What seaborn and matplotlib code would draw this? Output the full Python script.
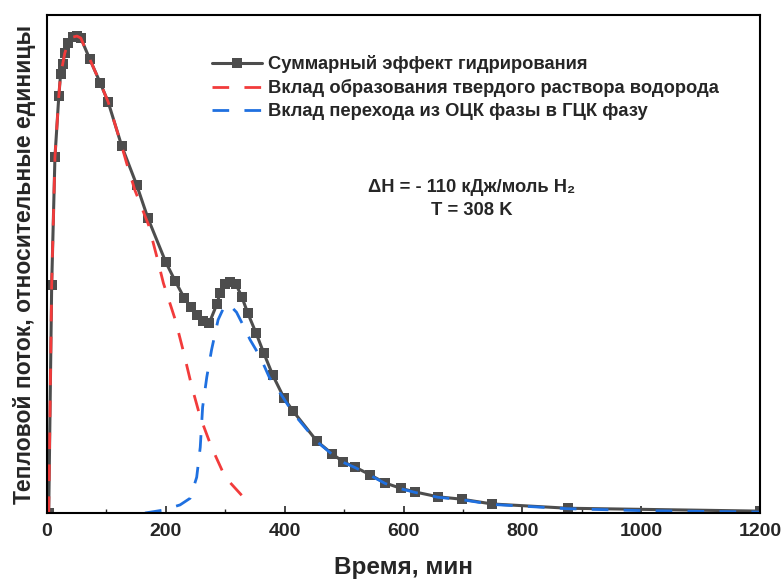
import numpy as np
import pandas as pd
import matplotlib
matplotlib.use("Agg")
import matplotlib.pyplot as plt
import seaborn as sns

# ---- data ----
total_x = [3, 8, 13.5, 20, 23, 26.5, 30, 35.5, 44, 50.5, 57, 72, 90, 103, 126, 151,
           170, 200, 216, 231, 242, 253, 263, 273, 286, 291, 300, 308, 318, 328,
           338, 352, 365, 380, 399, 414, 454, 480, 499, 519, 544, 569, 595, 620,
           658, 698, 749, 877, 1200]
total_y = [0, 47.8, 74.6, 87.4, 92.0, 94.1, 96.4, 98.5, 99.8, 100.0, 99.6, 95.2, 90.1,
           86.2, 76.9, 68.8, 61.8, 52.6, 48.6, 45.1, 43.2, 41.5, 40.3, 39.8, 43.8,
           46.1, 48.0, 48.4, 48.0, 45.3, 41.9, 37.7, 33.5, 28.9, 24.1, 21.4, 15.1,
           12.4, 10.7, 9.6, 8.0, 6.3, 5.2, 4.4, 3.4, 2.9, 1.9, 1.0, 0.4]

red_x = [3, 8, 13.5, 20, 23, 26.5, 30, 35.5, 44, 50.5, 57, 72, 90, 103, 126, 134, 148,
         171, 185, 196, 216, 229, 244, 258, 277, 300, 330, 345]
red_y = [0, 47.8, 74.6, 87.4, 92.0, 94.1, 96.4, 98.5, 99.8, 100.0, 99.6, 95.2, 90.1,
         86.2, 76.9, 73.4, 67.7, 60.4, 53.7, 48.2, 40.5, 34.2, 26.4, 20.1, 13.8, 7.5,
         3.4, 1.7]

blue_x = [165, 195, 224, 241, 252, 258, 262, 269, 277, 288, 298, 306, 319, 330, 342,
          359, 374, 397, 414, 454, 480, 499, 519, 544, 569, 595, 620, 658, 698, 749,
          877, 1000, 1200]
blue_y = [0, 0.6, 1.7, 3.1, 7.5, 13.8, 22.2, 28.5, 34.2, 40.5, 43.2, 43.8, 42.1, 39.4,
          36.3, 32.7, 28.5, 24.3, 21.0, 15.0, 12.3, 10.6, 9.5, 7.9, 6.2, 5.1, 4.3, 3.3,
          2.8, 1.8, 0.9, 0.5, 0.2]

labels = ["Суммарный эффект гидрирования",
          "Вклад образования твердого раствора водорода",
          "Вклад перехода из ОЦК фазы в ГЦК фазу"]
x_ticks = [0, 200, 400, 600, 800, 1000, 1200]

df_total = pd.DataFrame({"t": total_x, "q": total_y})
df_red = pd.DataFrame({"t": red_x, "q": red_y})
df_blue = pd.DataFrame({"t": blue_x, "q": blue_y})

# ---- style ----
sns.set_style("ticks")
plt.rcParams["font.family"] = ["Liberation Sans", "DejaVu Sans"]
plt.rcParams["font.weight"] = "bold"

fig = plt.figure(figsize=(7.82, 5.81), dpi=100)
ax = fig.add_axes([0.060, 0.117, 0.912, 0.857])

sns.lineplot(data=df_total, x="t", y="q", ax=ax, color="#4d4d4d", lw=2.2,
             marker="s", markersize=7, markeredgewidth=0, label=labels[0],
             sort=False, estimator=None)
sns.lineplot(data=df_red, x="t", y="q", ax=ax, color="#f23b3b", lw=2.0,
             linestyle=(0, (6, 5.5)), label=labels[1], sort=False, estimator=None)
sns.lineplot(data=df_blue, x="t", y="q", ax=ax, color="#1f70e0", lw=2.0,
             linestyle=(0, (6, 5.5)), label=labels[2], sort=False, estimator=None)

ax.set_xlim(0, 1200)
ax.set_ylim(0, 104.4)
ax.set_xticks(x_ticks)
ax.set_xticks(np.arange(100, 1200, 200), minor=True)
ax.set_yticks([])
ax.tick_params(axis="x", which="major", direction="in", length=5, width=1.2,
               labelsize=14, pad=7)
ax.tick_params(axis="x", which="minor", direction="in", length=3, width=1.0)
for lab in ax.get_xticklabels():
    lab.set_fontweight("bold")
for sp in ax.spines.values():
    sp.set_visible(True)
    sp.set_linewidth(1.5)
    sp.set_color("black")

ax.set_xlabel("Время, мин", fontsize=17.5, fontweight="bold", labelpad=12)
ax.set_ylabel("Тепловой поток, относительные единицы", fontsize=16.5,
              fontweight="bold", labelpad=8)

leg = ax.legend(loc="upper left", bbox_to_anchor=(0.2216, 0.934), frameon=False,
                fontsize=13.2, handlelength=2.73, handletextpad=0.33,
                labelspacing=0.32, borderaxespad=0)
for t in leg.get_texts():
    t.set_fontweight("bold")

ax.text(0.596, 0.653, "ΔH = - 110 кДж/моль H₂", transform=ax.transAxes,
        ha="center", va="center", fontsize=13.2, fontweight="bold")
ax.text(0.596, 0.608, "T = 308 K", transform=ax.transAxes,
        ha="center", va="center", fontsize=13.2, fontweight="bold")

fig.savefig("out.png", dpi=100)
